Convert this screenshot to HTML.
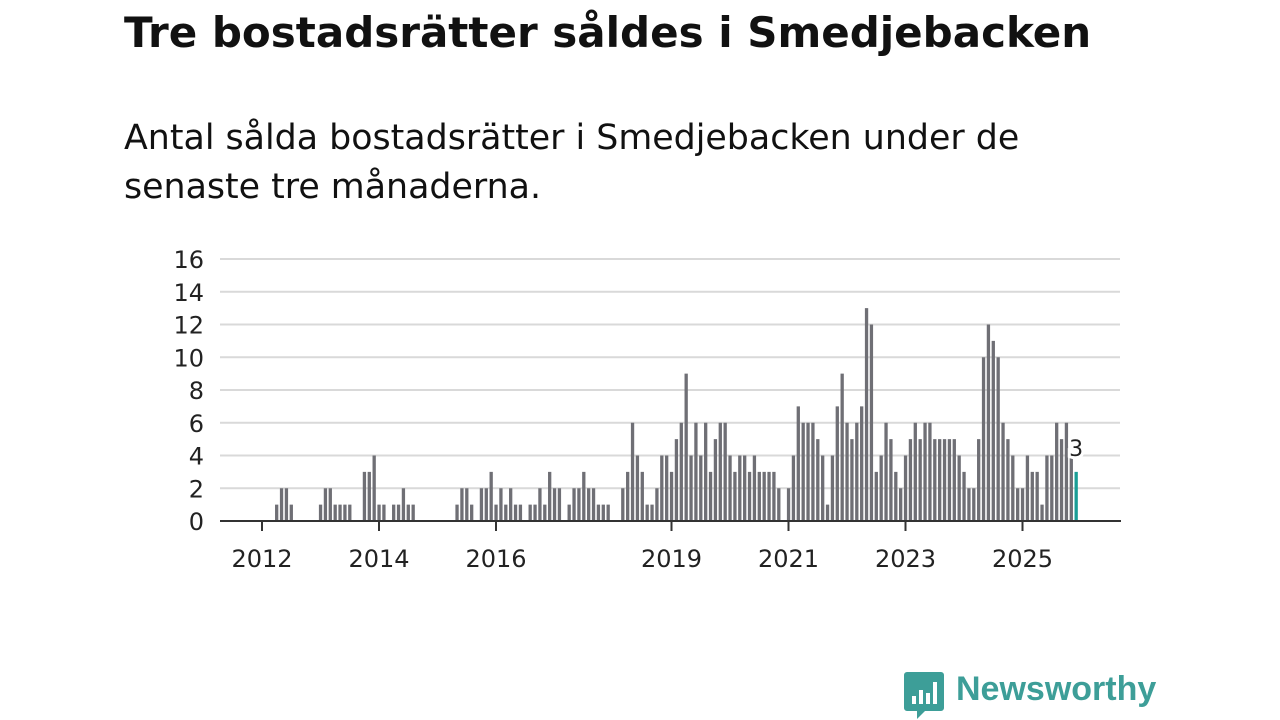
<!DOCTYPE html>
<html><head><meta charset="utf-8">
<style>
body{margin:0;width:1280px;height:720px;background:#fff;overflow:hidden;font-family:"DejaVu Sans","Liberation Sans",sans-serif;}
#title{position:absolute;left:124px;top:8px;font-size:42px;font-weight:bold;color:#111;margin:0;white-space:nowrap}
#sub{position:absolute;left:124px;top:114px;font-size:34.8px;color:#111;line-height:49px;width:940px}
svg{position:absolute;left:0;top:0}
#logo{position:absolute;left:903px;top:670px}
#logotext{position:absolute;left:956px;top:670px;font-size:34px;font-weight:bold;color:#3d9e98;font-family:"Liberation Sans",sans-serif}
</style></head><body>
<h1 id="title">Tre bostadsrätter såldes i Smedjebacken</h1>
<div id="sub">Antal sålda bostadsrätter i Smedjebacken under de senaste tre månaderna.</div>
<svg id="chart" width="1280" height="720"></svg>
<svg id="logo" width="42" height="50">
<path d="M4 2 H38 a3 3 0 0 1 3 3 V38 a3 3 0 0 1 -3 3 H22 L14 49 V41 H4 a3 3 0 0 1 -3 -3 V5 a3 3 0 0 1 3 -3z" fill="#3d9e98"/>
<rect x="9" y="26" width="4" height="8" fill="#fff"/><rect x="16" y="20" width="4" height="14" fill="#fff"/><rect x="23" y="23" width="4" height="11" fill="#fff"/><rect x="30" y="12" width="4" height="22" fill="#fff"/>
</svg>
<div id="logotext">Newsworthy</div>
<script>
const monthIndex = [3,4,5,6, 12,13,14,15,16,17,18, 21,22,23,24,25, 27,28,29,30,31, 40,41,42,43, 45,46,47,48,49,50,51,52,53, 55,56,57,58,59,60,61, 63,64,65,66,67,68,69,70,71];
const earlyValues = [1,2,2,1, 1,2,2,1,1,1,1, 3,3,4,1,1, 1,1,2,1,1, 1,2,2,1, 2,2,3,1,2,1,2,1,1, 1,1,2,1,3,2,2, 1,2,2,3,2,2,1,1,1];
const lateStart = 74;
const lateValues = [2,3,6,4,3,1,1,2,4,4,3,5,6,9,4,6,4,6,3,5,6,6,4,3,4,4,3,4,3,3,3,3,2,
 0,2,4,7,6,6,6,5,4,1,4,7,9,6,5,6,7,13,12,3,4,6,5,3,2,4,5,6,5,6,6,5,5,5,
 5,5,4,3,2,2,5,10,12,11,10,6,5,4,2,2,4,3,3,1,4,4,6,5,6,4,3];
const yTicks = [0,2,4,6,8,10,12,14,16];
const xTickLabels = ["2012","2014","2016","2019","2021","2023","2025"];
const xTickMonths = [0,24,48,84,108,132,156];

const NS="http://www.w3.org/2000/svg";
const svg=document.getElementById('chart');
const x0=262, pm=4.875, y0=521, yTop=259, yMax=16;
const xs=i=>x0+i*pm;
const ys=v=>y0-(v/yMax)*(y0-yTop);
function mk(t,a){const e=document.createElementNS(NS,t);for(const k in a)e.setAttribute(k,a[k]);svg.appendChild(e);return e;}
yTicks.forEach(t=>{
  const g=mk('line',{x1:220,x2:1120,y1:ys(t),y2:ys(t),stroke:'#d9d9d9','stroke-width':2});
  
  
  const l=mk('text',{x:204,y:ys(t)+9,'text-anchor':'end','font-size':24,fill:'#222'});
  l.textContent=t;
  
  
});
const bars=[];
monthIndex.forEach((m,k)=>bars.push([m,earlyValues[k]]));
lateValues.forEach((v,k)=>bars.push([lateStart+k,v]));
bars.forEach(([m,v],k)=>{
  if(v<=0)return;
  const last=k===bars.length-1;
  const r=mk('rect',{x:xs(m)-1.6,y:ys(v),width:3.3,height:y0-ys(v),fill:last?'#1a9e96':'#6f6f75'});
  
  
  if(last){
    const t=mk('text',{x:xs(m),y:ys(v)-16,'text-anchor':'middle','font-size':22,fill:'#222',stroke:'#fff','stroke-width':6,'paint-order':'stroke'});
    t.textContent=v;
    
    
  }
});
const ax=mk('line',{x1:220,x2:1121,y1:y0,y2:y0,stroke:'#333','stroke-width':2});


xTickMonths.forEach((m,k)=>{
  const t=mk('line',{x1:xs(m),x2:xs(m),y1:y0,y2:y0+10,stroke:'#333','stroke-width':2});
  
  
  const l=mk('text',{x:xs(m),y:567,'text-anchor':'middle','font-size':24,fill:'#222'});
  l.textContent=xTickLabels[k];
  
  
});
</script>
</body></html>
